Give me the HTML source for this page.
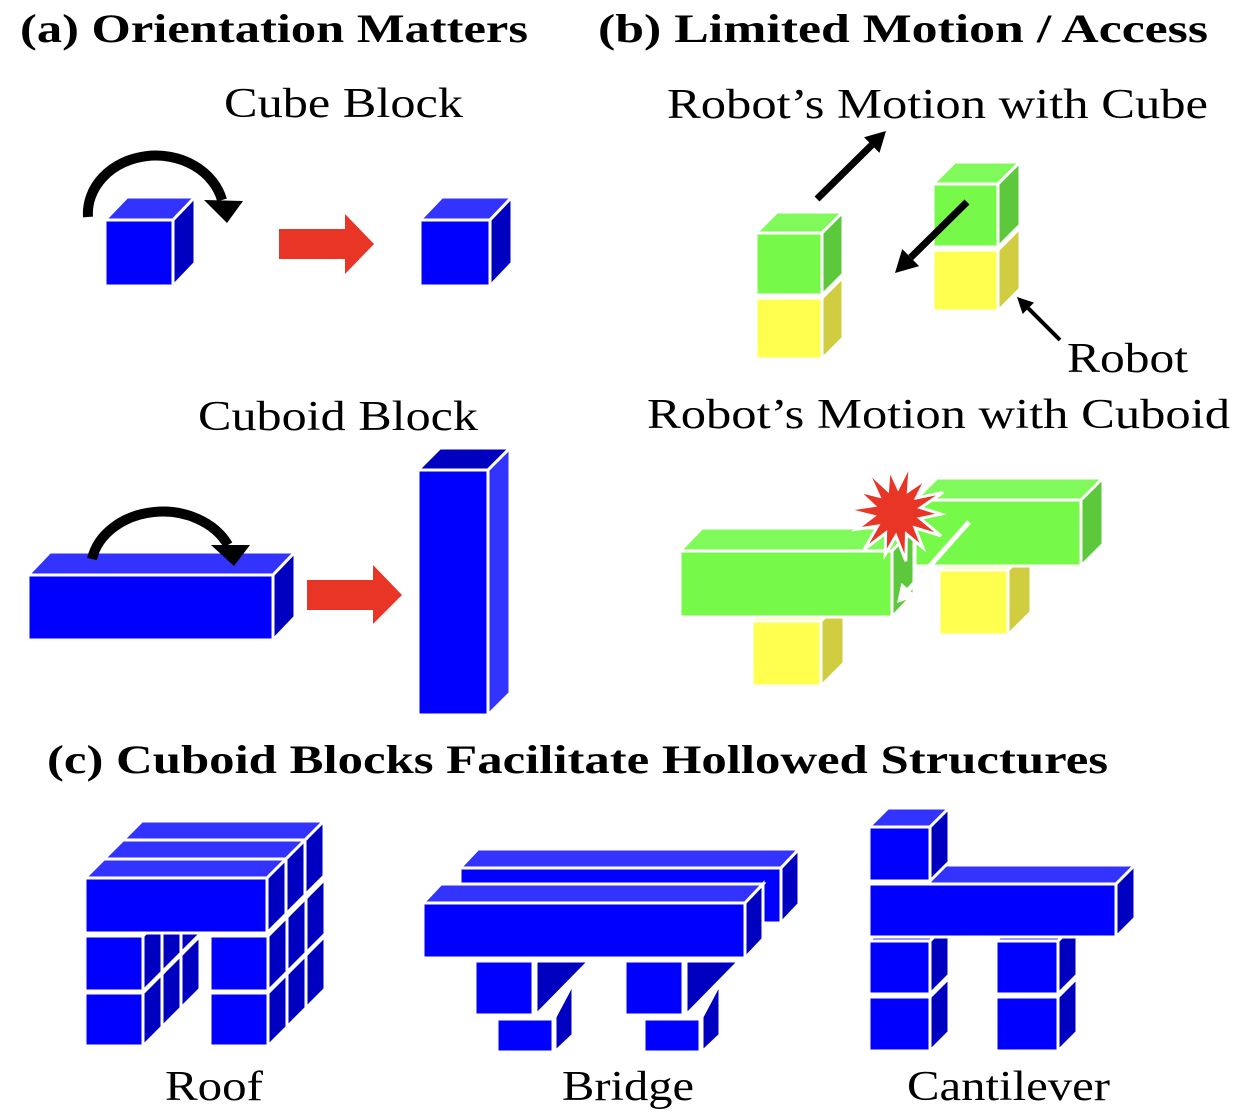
<!DOCTYPE html>
<html><head><meta charset="utf-8"><style>
html,body{margin:0;padding:0;background:#fff;}
svg{display:block;}
text{font-family:"Liberation Serif",serif;fill:#000;}
.b{font-weight:bold;}
</style></head><body>
<svg id="s" width="1240" height="1116" viewBox="0 0 1240 1116" xmlns="http://www.w3.org/2000/svg">
<g id="g"></g>
<text class="b" x="20" y="42" font-size="40" textLength="508" lengthAdjust="spacingAndGlyphs">(a) Orientation Matters</text>
<text class="b" x="598" y="42" font-size="40" textLength="610" lengthAdjust="spacingAndGlyphs">(b) Limited Motion / Access</text>
<text class="b" x="47" y="773" font-size="40" textLength="1061" lengthAdjust="spacingAndGlyphs">(c) Cuboid Blocks Facilitate Hollowed Structures</text>
<text x="224" y="117" font-size="42" textLength="239" lengthAdjust="spacingAndGlyphs">Cube Block</text>
<text x="198" y="430" font-size="42" textLength="280" lengthAdjust="spacingAndGlyphs">Cuboid Block</text>
<text x="667" y="118" font-size="42" textLength="541" lengthAdjust="spacingAndGlyphs">Robot’s Motion with Cube</text>
<text x="1067" y="372" font-size="42" textLength="121" lengthAdjust="spacingAndGlyphs">Robot</text>
<text x="647" y="428" font-size="42" textLength="583" lengthAdjust="spacingAndGlyphs">Robot’s Motion with Cuboid</text>
<text x="165" y="1100" font-size="42" textLength="98" lengthAdjust="spacingAndGlyphs">Roof</text>
<text x="562" y="1100" font-size="42" textLength="132" lengthAdjust="spacingAndGlyphs">Bridge</text>
<text x="907" y="1100" font-size="42" textLength="203" lengthAdjust="spacingAndGlyphs">Cantilever</text>
</svg>
<script>
var g=document.getElementById('g'),NS='http://www.w3.org/2000/svg';
function el(t,a){var e=document.createElementNS(NS,t);for(var k in a)e.setAttribute(k,a[k]);g.appendChild(e);return e;}
function poly(p,f,sw){el('polygon',{points:p.map(function(q){return q.join(',')}).join(' '),fill:f,stroke:sw===0?'none':'#fff','stroke-width':sw===undefined?3:sw,'stroke-linejoin':'miter'});}
var BL={f:'#0000ff',t:'#3333ff',s:'#0000c0'},BL2={f:'#0000ff',t:'#0000c0',s:'#3333ff'},
GR={f:'#77f94a',t:'#80fa5a',s:'#5cc83c'},YE={f:'#ffff50',t:'#ffff70',s:'#d0ce40'};
function box(x,y,w,h,dx,dy,c){
 poly([[x,y],[x+dx,y-dy],[x+w+dx,y-dy],[x+w,y]],c.t);
 poly([[x+w,y],[x+w+dx,y-dy],[x+w+dx,y+h-dy],[x+w,y+h]],c.s);
 poly([[x,y],[x+w,y],[x+w,y+h],[x,y+h]],c.f);
}
function rect(x,y,w,h,f){poly([[x,y],[x+w,y],[x+w,y+h],[x,y+h]],f);}
function arrowLine(x1,y1,x2,y2,w,hl,hw,col){
 var a=Math.atan2(y2-y1,x2-x1),ux=Math.cos(a),uy=Math.sin(a);
 var bx=x2-ux*hl,by=y2-uy*hl;
 el('line',{x1:x1,y1:y1,x2:bx,y2:by,stroke:col,'stroke-width':w});
 el('polygon',{points:[x2,y2,bx-uy*hw,by+ux*hw,bx+uy*hw,by-ux*hw].join(','),fill:col});
}
// (a)
box(105,220,68,66,22,23,BL);
el('path',{d:'M88,217 A68,58 0 0 1 222,200',fill:'none',stroke:'#000','stroke-width':10});
el('polygon',{points:'204,200 243,201 227,223',fill:'#000'});
el('polygon',{points:'279,229 345,229 345,214 374,244 345,274 345,259 279,259',fill:'#e83526'});
box(420,220,70,66,22,23,BL);
box(28,575,245,65,22,23,BL);
el('path',{d:'M92,559 A72,58 0 0 1 228,545',fill:'none',stroke:'#000','stroke-width':10});
el('polygon',{points:'211,545 250,545 234,566',fill:'#000'});
el('polygon',{points:'307,580 373,580 373,565 402,595 373,624 373,610 307,610',fill:'#e83526'});
box(418,470,70,245,22,22,BL2);
// (b) top
box(756,298,66,61,21,21,YE);
box(756,233,66,62,21,21,GR);
box(933,250,65,61,22,22,YE);
box(933,184,65,63,22,22,GR);
arrowLine(817,199,886,131,7,20,11,'#000');
arrowLine(967,202,895,273,7,22,12,'#000');
arrowLine(1060,340,1017,297,4,16,8,'#000');
// (b) bottom
box(939,570,69,65,23,23,YE);
box(915,500,166,66,22,22,GR);
box(752,621,69,65,23,23,YE);
box(680,551,212,66,22,23,GR);
arrowLine(969,522,897,603,5,18,10,'#fff');
(function(){var cx=897,cy=512,p=[];for(var i=0;i<28;i++){var r=i%2?24:(i%4?44:50),a=i*Math.PI/14-1.3;p.push([cx+r*Math.cos(a),cy+r*Math.sin(a)]);}poly(p,'#e83526',3);})();
// (c) Roof
var U=58,H=55,D=19;
for(var d=2;d>=0;d--){
 var ox=d*D,oy=-d*D;
 [[85,0],[210,0]].forEach(function(l){
  box(l[0]+ox,993+oy,U,53,D,D,BL);
  box(l[0]+ox,936+oy,U,H,D,D,BL);
 });
 box(85+ox,878+oy,182,55,D,D,BL);
}
// Bridge
box(460,868,321,55,18,19,BL);
[[475,497],[625,644]].forEach(function(p){
 var a=p[0],b=p[1];
 poly([[b+58,1052],[b+58,1017],[b+76,983],[b+76,1035]],'#0000c0');
 poly([[a+61,961],[a+114,961],[a+61,1015]],'#0000c0');
 rect(a,961,58,54,'#0000ff');
 rect(b,1019,56,33,'#0000ff');
});
box(423,903,322,55,18,19,BL);
// Cantilever
box(869,997,61,54,19,19,BL);
box(869,941,61,53,19,19,BL);
box(996,997,62,54,19,19,BL);
box(996,941,62,53,19,19,BL);
box(869,884,247,53,19,19,BL);
box(869,827,61,54,19,19,BL);
</script>
</body></html>
